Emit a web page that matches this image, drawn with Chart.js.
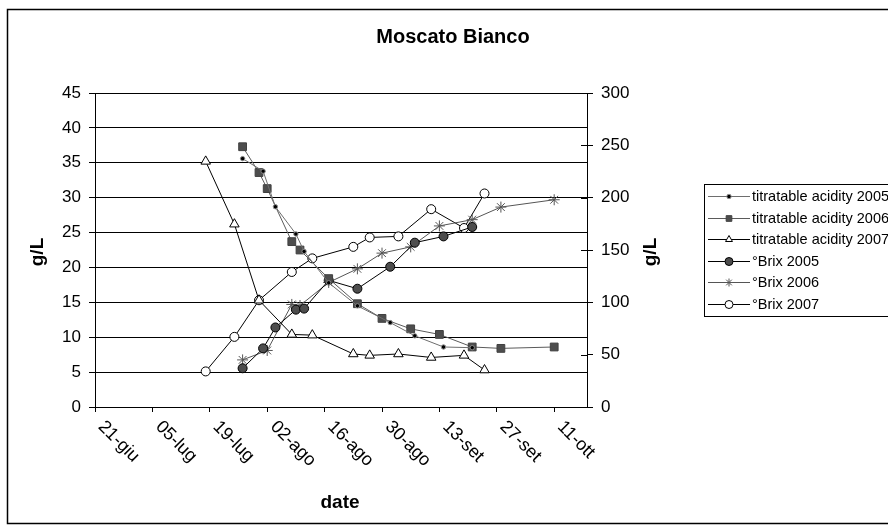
<!DOCTYPE html>
<html>
<head>
<meta charset="utf-8">
<script src="https://cdn.jsdelivr.net/npm/chart.js@4/dist/chart.umd.min.js"></script>
<style>
  html, body { margin: 0; padding: 0; background: #fff; }
  #wrap { width: 888px; height: 529px; }
</style>
</head>
<body>
<div id="wrap"><canvas id="grafico" width="888" height="529"></canvas></div>
<script>
// days counted from 21-giu
const tickDays = [0, 14, 28, 42, 56, 70, 84, 98, 112];
const tickLabels = ['21-giu', '05-lug', '19-lug', '02-ago', '16-ago', '30-ago', '13-set', '27-set', '11-ott'];
const leftTicks = [0, 5, 10, 15, 20, 25, 30, 35, 40, 45];
const rightTicks = [0, 50, 100, 150, 200, 250, 300];

const days2005 = [36, 41, 44, 49, 51, 57, 64, 72, 78, 85, 92];
const days2006 = [36, 40, 42, 48, 50, 57, 64, 70, 77, 84, 92, 99, 112];
const daysBrix2006 = [36, 42, 48, 50, 57, 64, 70, 77, 84, 92, 99, 112];
const days2007 = [27, 34, 40, 48, 53, 63, 67, 74, 82, 90, 95];

const acid2005 = [35.6, 33.8, 28.7, 24.8, 22.3, 17.8, 14.5, 12.1, 10.2, 8.6, 8.5];
const acid2006 = [37.3, 33.6, 31.3, 23.7, 22.5, 18.4, 14.8, 12.7, 11.2, 10.4, 8.6, 8.4, 8.6];
const acid2007 = [35.2, 26.2, 15.3, 10.4, 10.3, 7.6, 7.4, 7.6, 7.1, 7.4, 5.3];
const brix2005 = [37, 56, 76, 93, 94, 121, 113, 134, 157, 163, 172];
const brix2006 = [45, 54, 98, 97, 119, 132, 147, 153, 173, 179, 191, 198];
const brix2007 = [34, 67, 102, 129, 142, 153, 162, 163, 189, 171, 204];

function punti(giorni, valori) {
  return giorni.map(function(g, i) { return { x: g, y: valori[i] }; });
}

const serie = [
  { label: 'titratable acidity 2005', data: punti(days2005, acid2005), yAxisID: 'y',
    borderColor: '#6e6e6e', pointStyle: 'circle', pointRadius: 2.2, pointBackgroundColor: '#000', pointBorderColor: '#8c8c8c', pointBorderWidth: 1 },
  { label: 'titratable acidity 2006', data: punti(days2006, acid2006), yAxisID: 'y',
    borderColor: '#5a5a5a', pointStyle: 'rect', pointRadius: 5.5, pointBackgroundColor: '#4d4d4d', pointBorderColor: '#404040', pointBorderWidth: 1 },
  { label: 'titratable acidity 2007', data: punti(days2007, acid2007), yAxisID: 'y',
    borderColor: '#000', pointStyle: 'triangle', pointRadius: 5.5, pointBackgroundColor: '#fff', pointBorderColor: '#000', pointBorderWidth: 1 },
  { label: '°Brix 2005', data: punti(days2005, brix2005), yAxisID: 'y2',
    borderColor: '#000', pointStyle: 'circle', pointRadius: 4.5, pointBackgroundColor: '#4d4d4d', pointBorderColor: '#000', pointBorderWidth: 1 },
  { label: '°Brix 2006', data: punti(daysBrix2006, brix2006), yAxisID: 'y2',
    borderColor: '#555', pointStyle: 'star', pointRadius: 5.5, pointBackgroundColor: '#555', pointBorderColor: '#555', pointBorderWidth: 1 },
  { label: '°Brix 2007', data: punti(days2007, brix2007), yAxisID: 'y2',
    borderColor: '#000', pointStyle: 'circle', pointRadius: 4.5, pointBackgroundColor: '#fff', pointBorderColor: '#000', pointBorderWidth: 1 }
];
serie.forEach(function(s) {
  s.borderWidth = 1;
  s.fill = false;
  s.tension = 0;
  s.pointHoverRadius = s.pointRadius;
});

function marker(ctx, style, x, y, r, fill, stroke) {
  ctx.save();
  ctx.fillStyle = fill;
  ctx.strokeStyle = stroke;
  ctx.lineWidth = 1;
  ctx.beginPath();
  if (style === 'circle') {
    ctx.arc(x, y, r, 0, Math.PI * 2);
    ctx.fill(); ctx.stroke();
  } else if (style === 'rect') {
    const s = r * Math.SQRT1_2;
    ctx.rect(x - s, y - s, 2 * s, 2 * s);
    ctx.fill(); ctx.stroke();
  } else if (style === 'triangle') {
    for (let k = 0; k < 3; k++) {
      const a = k * 2 * Math.PI / 3;
      ctx.lineTo(x + Math.sin(a) * r, y - Math.cos(a) * r);
    }
    ctx.closePath();
    ctx.fill(); ctx.stroke();
  } else if (style === 'star') {
    for (let k = 0; k < 4; k++) {
      const a = k * Math.PI / 4;
      ctx.moveTo(x - Math.cos(a) * r, y - Math.sin(a) * r);
      ctx.lineTo(x + Math.cos(a) * r, y + Math.sin(a) * r);
    }
    ctx.stroke();
  }
  ctx.restore();
}

const extras = {
  id: 'extras',
  afterDraw: function(chart) {
    const ctx = chart.ctx;
    const area = chart.chartArea;
    const xs = chart.scales.x;
    const y2 = chart.scales.y2;
    ctx.save();

    // frame
    ctx.strokeStyle = '#000';
    ctx.lineWidth = 1.5;
    ctx.strokeRect(7.5, 9.5, 890, 514);

    // title
    ctx.fillStyle = '#000';
    ctx.font = 'bold 20px "Liberation Sans", Arial, sans-serif';
    ctx.textAlign = 'center';
    ctx.textBaseline = 'middle';
    ctx.fillText('Moscato Bianco', 453, 37);

    // axis titles
    ctx.font = 'bold 19px "Liberation Sans", Arial, sans-serif';
    ctx.fillText('date', 340, 503);
    [[38, 252], [651, 252]].forEach(function(p) {
      ctx.save();
      ctx.translate(p[0], p[1]);
      ctx.rotate(-Math.PI / 2);
      ctx.fillText('g/L', 0, 0);
      ctx.restore();
    });

    // x labels, rotated clockwise
    ctx.font = '18px "Liberation Sans", Arial, sans-serif';
    ctx.textAlign = 'left';
    tickDays.forEach(function(d, i) {
      const px = xs.getPixelForValue(d);
      ctx.save();
      ctx.translate(px + 6, area.bottom + 17);
      ctx.rotate(Math.PI / 4);
      ctx.fillText(tickLabels[i], 0, 0);
      ctx.restore();
    });

    // inner half of right ticks
    ctx.strokeStyle = '#000';
    ctx.lineWidth = 1;
    rightTicks.forEach(function(v) {
      const py = Math.round(y2.getPixelForValue(v)) + 0.5;
      ctx.beginPath();
      ctx.moveTo(area.right - 6, py);
      ctx.lineTo(area.right, py);
      ctx.stroke();
    });

    // legend
    const lx = 704, ly = 184;
    ctx.fillStyle = '#fff';
    ctx.fillRect(lx + 0.5, ly + 0.5, 200, 132);
    ctx.strokeStyle = '#000';
    ctx.strokeRect(lx + 0.5, ly + 0.5, 200, 132);
    ctx.font = '14.5px "Liberation Sans", Arial, sans-serif';
    ctx.textBaseline = 'middle';
    chart.data.datasets.forEach(function(ds, i) {
      const yy = Math.round(ly + 12 + i * 21.6) + 0.5;
      ctx.strokeStyle = ds.borderColor;
      ctx.lineWidth = 1;
      ctx.beginPath();
      ctx.moveTo(lx + 4, yy);
      ctx.lineTo(lx + 46, yy);
      ctx.stroke();
      marker(ctx, ds.pointStyle, lx + 25, yy, Math.min(ds.pointRadius, 4), ds.pointBackgroundColor, ds.pointBorderColor);
      ctx.fillStyle = '#000';
      ctx.fillText(ds.label, lx + 48, yy);
    });

    ctx.restore();
  }
};

const grafico = new Chart(document.getElementById('grafico').getContext('2d'), {
  type: 'line',
  data: { datasets: serie },
  options: {
    responsive: false,
    animation: false,
    events: [],
    layout: { padding: { left: 10, right: 241, top: 93, bottom: 42 } },
    plugins: { legend: { display: false }, title: { display: false }, tooltip: { enabled: false } },
    scales: {
      x: {
        type: 'linear',
        min: 0,
        max: 120,
        afterFit: function(s) { s.height = 80; },
        afterBuildTicks: function(s) { s.ticks = tickDays.map(function(v) { return { value: v }; }); },
        ticks: { display: false, autoSkip: false },
        grid: { drawOnChartArea: false, tickLength: 5, color: '#000' },
        border: { color: '#000', width: 1 }
      },
      y: {
        position: 'left',
        min: 0,
        max: 45,
        afterFit: function(s) { s.width = 85; },
        afterBuildTicks: function(s) { s.ticks = leftTicks.map(function(v) { return { value: v }; }); },
        ticks: { color: '#000', padding: 8, font: { size: 17, family: '"Liberation Sans", Arial, sans-serif' } },
        grid: { color: '#000', lineWidth: 1, tickLength: 6 },
        border: { color: '#000', width: 1 }
      },
      y2: {
        position: 'right',
        min: 0,
        max: 300,
        afterFit: function(s) { s.width = 60; },
        afterBuildTicks: function(s) { s.ticks = rightTicks.map(function(v) { return { value: v }; }); },
        ticks: { color: '#000', padding: 8, font: { size: 17, family: '"Liberation Sans", Arial, sans-serif' } },
        grid: { drawOnChartArea: false, color: '#000', tickLength: 6 },
        border: { color: '#000', width: 1 }
      }
    }
  },
  plugins: [extras]
});
</script>
</body>
</html>
